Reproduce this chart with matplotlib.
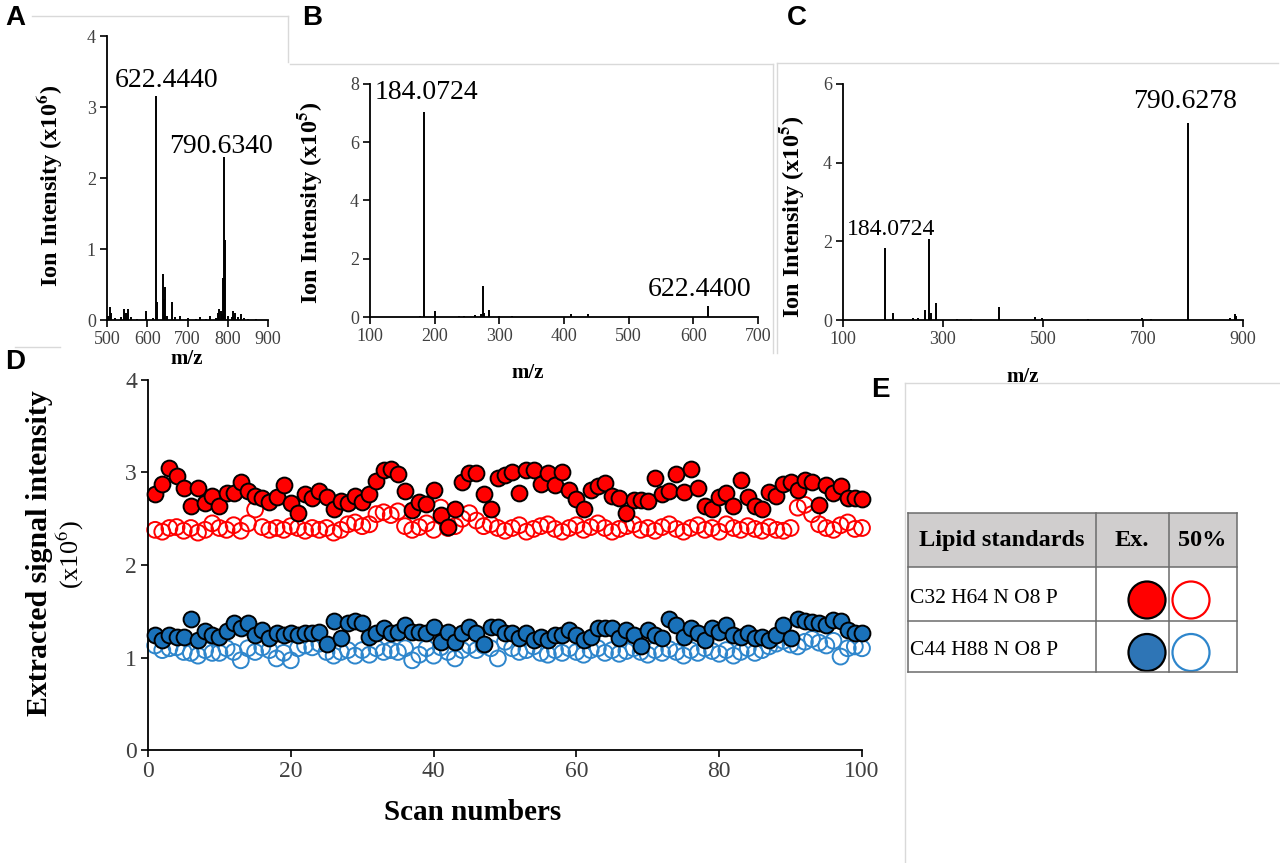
import matplotlib
matplotlib.use("Agg")
import matplotlib.pyplot as plt
from matplotlib.patches import Rectangle, Circle
import numpy as np

plt.rcParams['font.family'] = ['Liberation Serif', 'DejaVu Serif']
plt.rcParams['mathtext.fontset'] = 'stix'

W, H = 1280, 863

# ---------------- data ----------------
A_mz = [503, 507, 510, 520, 535, 542, 546, 553, 560, 575, 598, 615, 622.444, 625, 638, 641, 644, 650,
        661, 670, 682, 700, 720, 731, 745, 756, 770, 775, 778, 782, 786, 788, 790.634, 792, 800, 810,
        814, 819, 825, 832, 840, 850, 870]
A_int = [0.05, 0.19, 0.10, 0.03, 0.04, 0.16, 0.10, 0.16, 0.04, 0.02, 0.13, 0.03, 3.15, 0.25, 0.65, 0.30,
         0.47, 0.05, 0.26, 0.04, 0.05, 0.03, 0.02, 0.04, 0.02, 0.05, 0.03, 0.10, 0.15, 0.12, 0.08, 0.59,
         2.29, 1.12, 0.05, 0.04, 0.13, 0.10, 0.04, 0.08, 0.03, 0.02, 0.01]
A_labels = ["622.4440", "790.6340"]

B_mz = [178, 184.0724, 200, 237, 245, 263, 272, 274, 277, 284, 300, 320, 411, 437, 500, 622.44]
B_int = [0.05, 7.05, 0.20, 0.03, 0.03, 0.08, 0.10, 1.07, 0.15, 0.25, 0.03, 0.03, 0.12, 0.10, 0.03, 0.39]
B_labels = ["184.0724", "622.4400"]

C_mz = [184.0724, 199, 240, 250, 263, 272, 276, 285, 327, 355, 411, 483, 497, 590, 697, 716,
        790.6278, 874, 883, 886]
C_int = [1.82, 0.19, 0.05, 0.05, 0.25, 2.06, 0.17, 0.44, 0.03, 0.03, 0.32, 0.07, 0.05, 0.03, 0.05,
         0.03, 5.00, 0.05, 0.15, 0.10]
C_labels = ["184.0724", "790.6278"]

scans = list(range(1, 101))
red_ex = [2.77, 2.88, 3.05, 2.96, 2.83, 2.64, 2.83, 2.67, 2.75, 2.64,
          2.78, 2.78, 2.90, 2.80, 2.75, 2.72, 2.68, 2.74, 2.87, 2.67,
          2.56, 2.77, 2.72, 2.80, 2.73, 2.61, 2.69, 2.67, 2.75, 2.68,
          2.77, 2.91, 3.03, 3.04, 2.98, 2.80, 2.59, 2.68, 2.66, 2.81,
          2.54, 2.41, 2.61, 2.90, 2.99, 2.99, 2.77, 2.60, 2.94, 2.97,
          3.01, 2.78, 3.03, 3.03, 2.88, 2.99, 2.87, 3.00, 2.81, 2.71,
          2.60, 2.81, 2.85, 2.89, 2.75, 2.72, 2.56, 2.70, 2.70, 2.69,
          2.94, 2.77, 2.80, 2.98, 2.79, 3.04, 2.83, 2.64, 2.60, 2.74,
          2.78, 2.64, 2.92, 2.73, 2.64, 2.60, 2.79, 2.75, 2.88, 2.90,
          2.81, 2.92, 2.90, 2.65, 2.86, 2.78, 2.85, 2.72, 2.72, 2.71]
red_50 = [2.38, 2.36, 2.40, 2.41, 2.37, 2.40, 2.35, 2.38, 2.45, 2.40,
          2.38, 2.43, 2.37, 2.45, 2.60, 2.41, 2.38, 2.40, 2.38, 2.42,
          2.40, 2.37, 2.40, 2.38, 2.40, 2.35, 2.38, 2.44, 2.46, 2.42,
          2.44, 2.55, 2.57, 2.54, 2.58, 2.42, 2.38, 2.41, 2.45, 2.38,
          2.62, 2.40, 2.42, 2.50, 2.56, 2.48, 2.42, 2.44, 2.40, 2.37,
          2.40, 2.43, 2.36, 2.39, 2.42, 2.44, 2.39, 2.36, 2.40, 2.43,
          2.38, 2.41, 2.45, 2.40, 2.36, 2.39, 2.42, 2.44, 2.38, 2.40,
          2.37, 2.41, 2.44, 2.39, 2.36, 2.40, 2.43, 2.38, 2.40, 2.36,
          2.44, 2.40, 2.38, 2.42, 2.39, 2.37, 2.41, 2.38, 2.37, 2.40,
          2.62, 2.65, 2.55, 2.44, 2.40, 2.38, 2.43, 2.46, 2.39, 2.40]
blue_ex = [1.24, 1.19, 1.24, 1.22, 1.22, 1.42, 1.19, 1.29, 1.24, 1.22,
           1.29, 1.37, 1.32, 1.37, 1.24, 1.30, 1.21, 1.26, 1.24, 1.26,
           1.24, 1.26, 1.26, 1.28, 1.15, 1.39, 1.21, 1.37, 1.39, 1.37,
           1.22, 1.26, 1.32, 1.26, 1.28, 1.35, 1.28, 1.28, 1.26, 1.33,
           1.17, 1.28, 1.17, 1.26, 1.33, 1.26, 1.15, 1.33, 1.33, 1.26,
           1.26, 1.21, 1.26, 1.19, 1.22, 1.19, 1.24, 1.24, 1.30, 1.24,
           1.19, 1.22, 1.32, 1.32, 1.32, 1.21, 1.30, 1.24, 1.12, 1.30,
           1.24, 1.21, 1.42, 1.35, 1.22, 1.32, 1.26, 1.19, 1.32, 1.28,
           1.35, 1.24, 1.22, 1.26, 1.21, 1.22, 1.19, 1.24, 1.35, 1.21,
           1.42, 1.39, 1.38, 1.37, 1.35, 1.41, 1.39, 1.30, 1.26, 1.26]
blue_50 = [1.13, 1.08, 1.10, 1.11, 1.06, 1.05, 1.02, 1.08, 1.05, 1.05,
           1.10, 1.06, 0.97, 1.10, 1.06, 1.11, 1.08, 0.99, 1.05, 0.97,
           1.10, 1.13, 1.11, 1.15, 1.06, 1.02, 1.06, 1.08, 1.02, 1.08,
           1.03, 1.10, 1.06, 1.08, 1.06, 1.10, 0.97, 1.03, 1.10, 1.02,
           1.11, 1.06, 0.99, 1.08, 1.13, 1.08, 1.13, 1.10, 0.99, 1.17,
           1.10, 1.06, 1.08, 1.12, 1.05, 1.03, 1.08, 1.05, 1.10, 1.06,
           1.03, 1.08, 1.10, 1.05, 1.08, 1.04, 1.07, 1.10, 1.06, 1.03,
           1.08, 1.05, 1.09, 1.06, 1.02, 1.08, 1.05, 1.10, 1.07, 1.04,
           1.08, 1.02, 1.06, 1.10, 1.05, 1.08, 1.12, 1.15, 1.18, 1.14,
           1.12, 1.17, 1.20, 1.16, 1.13, 1.18, 1.01, 1.10, 1.12, 1.10]

table_header = ["Lipid standards", "Ex.", "50%"]
table_rows = ["C32 H64 N O8 P", "C44 H88 N O8 P"]

RED = "#FF0000"
BLUE = "#1A72BA"
BLUE_OPEN = "#2E86CC"
BLUE_TABLE = "#2E75B6"
TICKC = "#404040"

fig = plt.figure(figsize=(W / 100, H / 100), dpi=100)


def px_axes(l, t, r, b, z=1):
    return fig.add_axes([l / W, 1 - b / H, (r - l) / W, (b - t) / H], zorder=z)


def style(ax, fs):
    for s in ("top", "right"):
        ax.spines[s].set_visible(False)
    for s in ("left", "bottom"):
        ax.spines[s].set_linewidth(1.3)
        ax.spines[s].set_color("black")
    ax.tick_params(direction="out", length=5, width=1.2, labelsize=fs, labelcolor=TICKC, pad=3)
    ax.set_facecolor("none")


# ---------- spectra ----------
axA = px_axes(107, 36, 268, 320)
axA.vlines(A_mz, 0, A_int, color="black", lw=1.4)
axA.set_xlim(500, 900); axA.set_ylim(0, 4)
axA.set_xticks(range(500, 901, 100)); axA.set_yticks(range(0, 5))
style(axA, 13)
axA.text(648, 3.38, A_labels[0], ha="center", va="center", fontsize=20)
axA.text(783, 2.44, A_labels[1], ha="center", va="center", fontsize=20)

axB = px_axes(370, 84, 758, 317)
axB.vlines(B_mz, 0, B_int, color="black", lw=1.4)
axB.set_xlim(100, 700); axB.set_ylim(0, 8)
axB.set_xticks(range(100, 701, 100)); axB.set_yticks(range(0, 9, 2))
style(axB, 13)
axB.text(188, 7.7, B_labels[0], ha="center", va="center", fontsize=20)
axB.text(610, 0.93, B_labels[1], ha="center", va="center", fontsize=20)

axC = px_axes(843, 84, 1243, 320)
axC.vlines(C_mz, 0, C_int, color="black", lw=1.4)
axC.set_xlim(100, 900); axC.set_ylim(0, 6)
axC.set_xticks(range(100, 901, 200)); axC.set_yticks(range(0, 7, 2))
style(axC, 13)
axC.text(196, 2.29, C_labels[0], ha="center", va="center", fontsize=17)
axC.text(784, 5.55, C_labels[1], ha="center", va="center", fontsize=20)

# ---------- panel D ----------
axD = px_axes(148, 380, 862, 750, z=2)
axD.scatter(scans, red_50, s=130, facecolors="none", edgecolors=RED, linewidths=1.4, clip_on=False, zorder=2)
axD.scatter(scans, blue_50, s=130, facecolors="none", edgecolors=BLUE_OPEN, linewidths=1.4, clip_on=False, zorder=2)
axD.scatter(scans, red_ex, s=130, facecolors=RED, edgecolors="black", linewidths=1.4, clip_on=False, zorder=3)
axD.scatter(scans, blue_ex, s=130, facecolors=BLUE, edgecolors="black", linewidths=1.4, clip_on=False, zorder=3)
axD.set_xlim(0, 100); axD.set_ylim(0, 4)
axD.set_xticks(range(0, 101, 20)); axD.set_yticks(range(0, 5))
style(axD, 17)

# ---------- overlay (pixel coordinates) ----------
ov = fig.add_axes([0, 0, 1, 1], zorder=5)
ov.set_xlim(0, W); ov.set_ylim(H, 0); ov.axis("off"); ov.set_facecolor("none")

FRAME = "#d9d9d9"
for xs, ys in [([32, 288], [16, 16]), ([288, 288], [16, 62]), ([290, 773], [64, 64]), ([773, 773], [64, 353]),
               ([777, 1278], [63, 63]), ([777, 777], [63, 353]), ([905, 1280], [383, 383]), ([905, 905], [383, 863]),
               ([15, 60], [347, 347])]:
    ov.plot(xs, ys, color=FRAME, lw=1.0)

# panel letters
for lab, (x, y) in zip("ABCDE", [(15, 18), (312, 18), (797, 18), (15, 362), (880, 390)]):
    ov.text(x, y, lab, fontsize=20, fontweight="bold", family="Liberation Sans", ha="center", va="center")

# axis labels for spectra
ov.text(50, 186, r"Ion Intensity (x10$^{\mathbf{6}}$)", rotation=90, fontsize=17.5, fontweight="bold", ha="center", va="center")
ov.text(310, 203, r"Ion Intensity (x10$^{\mathbf{5}}$)", rotation=90, fontsize=17.5, fontweight="bold", ha="center", va="center")
ov.text(791, 217, r"Ion Intensity (x10$^{\mathbf{5}}$)", rotation=90, fontsize=17.5, fontweight="bold", ha="center", va="center")
ov.text(187, 359, "m/z", fontsize=15, fontweight="bold", ha="center", va="center")
ov.text(528, 373, "m/z", fontsize=15, fontweight="bold", ha="center", va="center")
ov.text(1023, 377, "m/z", fontsize=15, fontweight="bold", ha="center", va="center")

# panel D labels
ov.text(473, 812, "Scan numbers", fontsize=21, fontweight="bold", ha="center", va="center")
ov.text(40, 553, "Extracted signal intensity", rotation=90, fontsize=21.5, fontweight="bold", ha="center", va="center")
ov.text(70, 555, r"(x10$^{6}$)", rotation=90, fontsize=19, ha="center", va="center")

# ---------- panel E table ----------
tl, tr = 908, 1237
col_x = [908, 1096, 1169, 1237]
row_y = [513, 567, 621, 672]
ov.add_patch(Rectangle((tl, row_y[0]), tr - tl, row_y[1] - row_y[0], facecolor="#d0cece", edgecolor="none"))
for y in row_y:
    ov.plot([tl, tr], [y, y], color="#6b6b6b", lw=1.1)
for x in col_x:
    ov.plot([x, x], [row_y[0], row_y[-1]], color="#6b6b6b", lw=1.1)
hx = [1002, 1132, 1202]
for txt, x in zip(table_header, hx):
    ov.text(x, (row_y[0] + row_y[1]) / 2, txt, fontsize=17.5, fontweight="bold", ha="center", va="center")
row_colors = [(RED, RED), (BLUE_TABLE, BLUE_OPEN)]
for i, (txt, (fc, oc)) in enumerate(zip(table_rows, row_colors)):
    yc = (row_y[i + 1] + row_y[i + 2]) / 2
    ov.text(910, yc + 4, txt, fontsize=15.5, ha="left", va="center")
    ov.add_patch(Circle((1147, yc + 6), 18.5, facecolor=fc, edgecolor="black", lw=1.6))
    ov.add_patch(Circle((1191, yc + 6), 18.5, facecolor="white", edgecolor=oc, lw=1.6))

fig.savefig("out.png", dpi=100)
